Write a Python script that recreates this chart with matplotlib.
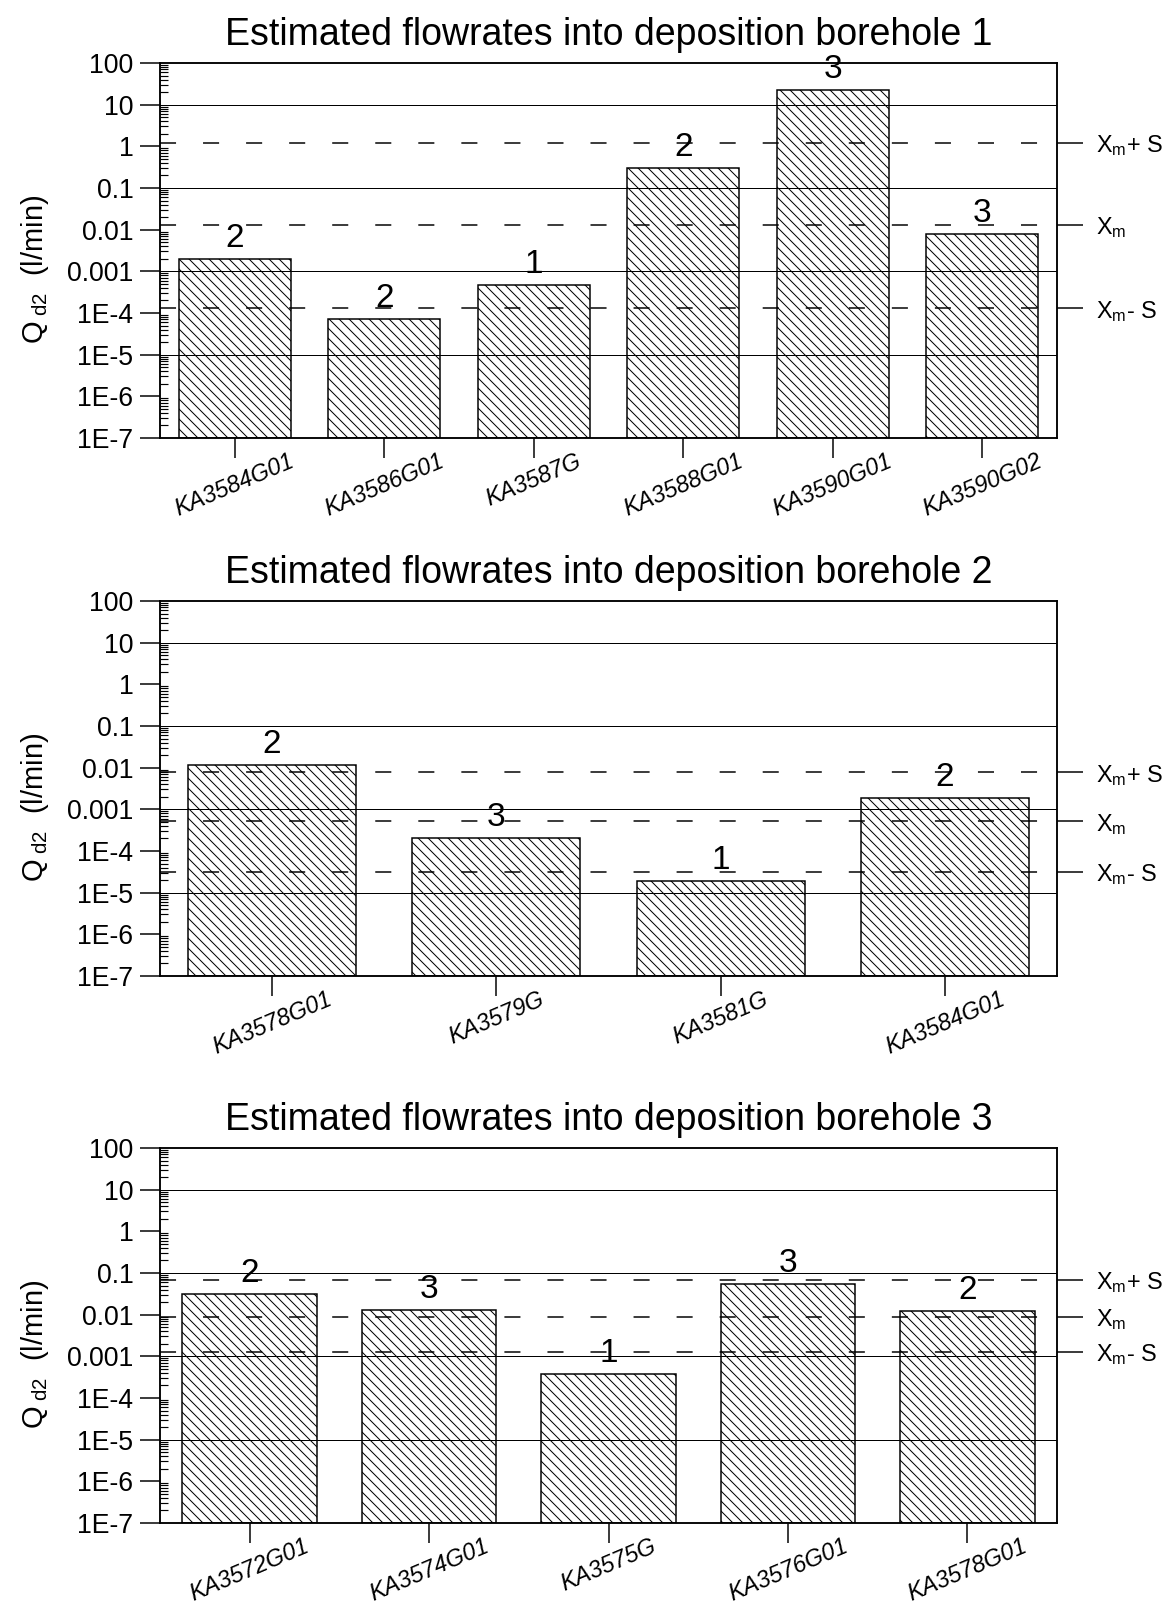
import matplotlib
matplotlib.use("Agg")
import matplotlib.pyplot as plt
from matplotlib.ticker import FixedLocator, LogLocator, NullFormatter, NullLocator

plt.rcParams["font.family"] = ["Liberation Sans", "DejaVu Sans"]
plt.rcParams["mathtext.fontset"] = "custom"
plt.rcParams["mathtext.rm"] = "Liberation Sans"
plt.rcParams["mathtext.it"] = "Liberation Sans:italic"
plt.rcParams["mathtext.bf"] = "Liberation Sans:bold"
plt.rcParams["hatch.linewidth"] = 0.6
plt.rcParams["hatch.color"] = "black"

# --- data ---
bh1_holes = ["KA3584G01", "KA3586G01", "KA3587G", "KA3588G01", "KA3590G01", "KA3590G02"]
bh1_q = [2.0e-3, 7.0e-5, 4.8e-4, 0.31, 22.0, 7.7e-3]
bh1_class = [2, 2, 1, 2, 3, 3]
bh1_levels = [1.23, 1.29e-2, 1.29e-4]   # Xm+S, Xm, Xm-S

bh2_holes = ["KA3578G01", "KA3579G", "KA3581G", "KA3584G01"]
bh2_q = [1.15e-2, 2.0e-4, 1.9e-5, 1.9e-3]
bh2_class = [2, 3, 1, 2]
bh2_levels = [7.8e-3, 5.2e-4, 3.2e-5]

bh3_holes = ["KA3572G01", "KA3574G01", "KA3575G", "KA3576G01", "KA3578G01"]
bh3_q = [3.2e-2, 1.3e-2, 3.7e-4, 5.3e-2, 1.25e-2]
bh3_class = [2, 3, 1, 3, 2]
bh3_levels = [6.8e-2, 8.9e-3, 1.3e-3]

ytick_values = [1e-7, 1e-6, 1e-5, 1e-4, 1e-3, 1e-2, 1e-1, 1, 10, 100]
ytick_labels = ["1E-7", "1E-6", "1E-5", "1E-4", "0.001", "0.01", "0.1", "1", "10", "100"]
level_labels = [r"X$_\mathrm{m}$+ S", r"X$_\mathrm{m}$", r"X$_\mathrm{m}$- S"]
grid_levels = [10, 0.1, 1e-3, 1e-5]

YMIN, YMAX = 1e-7, 100
DPI = 120
W, H = 1174, 1606

fig = plt.figure(figsize=(W / DPI, H / DPI), dpi=DPI)


def panel(top_px, title, holes, q, cls, levels):
    left, right, height = 160, 1057, 375
    rect = [left / W, (H - top_px - height) / H, (right - left) / W, height / H]
    ax = fig.add_axes(rect)
    ax.set_yscale("log")
    ax.set_ylim(YMIN, YMAX)
    n = len(holes)
    ax.set_xlim(-0.5, n - 0.5)
    xs = list(range(n))

    ax.bar(xs, [v - YMIN for v in q], bottom=YMIN, width=0.75,
           facecolor="white", edgecolor="black", linewidth=0.9,
           hatch="\\\\\\\\", zorder=2)

    for lv in grid_levels:
        ax.axhline(lv, color="black", lw=0.6, zorder=3)
    for lv in levels:
        ax.axhline(lv, color="black", lw=0.9, ls=(0, (10.7, 18)), zorder=3)

    for xi, v, c in zip(xs, q, cls):
        ax.annotate(str(c), (xi, v), xytext=(0, 3), textcoords="offset points",
                    ha="center", va="bottom", fontsize=20, zorder=5)

    ax.yaxis.set_major_locator(FixedLocator(ytick_values))
    ax.set_yticklabels(ytick_labels)
    ax.yaxis.set_minor_locator(LogLocator(base=10, subs=range(2, 10), numticks=20))
    ax.yaxis.set_minor_formatter(NullFormatter())
    ax.tick_params(axis="y", which="major", direction="out", length=12,
                   width=0.9, labelsize=16, pad=4)
    ax.tick_params(axis="y", which="minor", direction="in", length=5, width=0.7)

    ax.set_xticks(xs)
    ax.set_xticklabels(holes, rotation=23, ha="center", va="top",
                       fontstyle="italic", fontsize=14)
    ax.tick_params(axis="x", direction="out", length=12, width=0.9, pad=-5)

    for sp in ax.spines.values():
        sp.set_linewidth(0.9)

    ax.set_title(title, fontsize=22.5, pad=11)
    ax.set_ylabel(r"Q$_{\ \mathrm{d2}}$  (l/min)", fontsize=17.5)
    ax.yaxis.set_label_coords(-0.122, 0.45)

    ax2 = ax.twinx()
    ax2.set_yscale("log")
    ax2.set_ylim(YMIN, YMAX)
    ax2.yaxis.set_major_locator(FixedLocator(levels))
    ax2.yaxis.set_minor_locator(NullLocator())
    ax2.set_yticklabels(level_labels)
    ax2.tick_params(axis="y", which="major", direction="out", length=15.6,
                    width=0.9, labelsize=14, pad=8)
    for sp in ax2.spines.values():
        sp.set_linewidth(0.9)
    return ax


panel(63, "Estimated flowrates into deposition borehole 1",
      bh1_holes, bh1_q, bh1_class, bh1_levels)
panel(601, "Estimated flowrates into deposition borehole 2",
      bh2_holes, bh2_q, bh2_class, bh2_levels)
panel(1148, "Estimated flowrates into deposition borehole 3",
      bh3_holes, bh3_q, bh3_class, bh3_levels)

fig.savefig("out.png", dpi=DPI, facecolor="white")
